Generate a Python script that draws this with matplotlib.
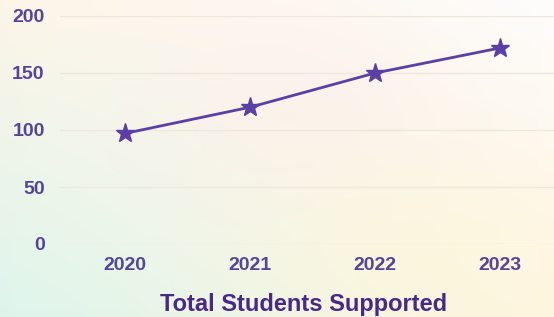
import numpy as np
import matplotlib.pyplot as plt

years = ["2020", "2021", "2022", "2023"]
students = [97, 120, 150, 172]
yticks = [0, 50, 100, 150, 200]

purple = "#5b3fa6"
text_purple = "#55449c"
title_purple = "#482888"

plt.rcParams['font.family'] = ['Liberation Sans', 'DejaVu Sans']

fig = plt.figure(figsize=[5.54, 3.17], dpi=100)

# soft pastel background gradient
bg = fig.add_axes([0, 0, 1, 1], zorder=0)
h, w = 80, 140
yy, xx = np.mgrid[0:1:h*1j, 0:1:w*1j]
tl = np.array([253, 245, 232]) / 255
tr = np.array([254, 253, 252]) / 255
bl = np.array([222, 245, 236]) / 255
br = np.array([255, 245, 224]) / 255
img = (tl * ((1-xx)*(1-yy))[..., None] + tr * (xx*(1-yy))[..., None]
       + bl * ((1-xx)*yy)[..., None] + br * (xx*yy)[..., None])
# a faint peach glow in the middle and yellow to the lower right
peach = np.array([253, 238, 232]) / 255
glow = np.exp(-(((xx-0.55)/0.3)**2 + ((yy-0.35)/0.35)**2))[..., None]
img = img*(1-0.5*glow) + peach*0.5*glow
yel = np.array([254, 246, 215]) / 255
g2 = np.exp(-(((xx-0.75)/0.3)**2 + ((yy-0.8)/0.3)**2))[..., None]
img = img*(1-0.5*g2) + yel*0.5*g2
bg.imshow(np.clip(img, 0, 1), aspect='auto', extent=[0, 1, 0, 1], origin='upper')
bg.axis('off')

ax = fig.add_axes([60/554, 1-244/317, 494/554, (244-16)/317], zorder=1)
ax.patch.set_alpha(0)
x = np.arange(len(years))
ax.plot(x, students, color=purple, lw=2, marker='*', markersize=14,
        markerfacecolor=purple, markeredgecolor=purple)
ax.set_xlim(-0.52, 3.43)
ax.set_ylim(0, 200)
ax.set_xticks(x)
ax.set_xticklabels(years)
ax.set_yticks(yticks)
ax.grid(axis='y', color='#efe6dc', lw=1)
ax.set_axisbelow(True)
for s in ax.spines.values():
    s.set_visible(False)
ax.tick_params(length=0, colors=text_purple, labelsize=14)
ax.tick_params(axis='y', pad=11)
ax.tick_params(axis='x', pad=9)
for lab in ax.get_xticklabels() + ax.get_yticklabels():
    lab.set_fontweight('bold')
fig.text(304/554, 1-305/317, "Total Students Supported", color=title_purple,
         fontsize=17, fontweight='heavy', ha='center', va='center')

plt.savefig('out.png', dpi=100)
